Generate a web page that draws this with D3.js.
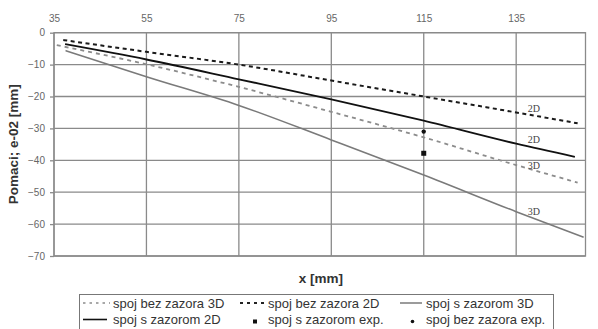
<!DOCTYPE html>
<html><head><meta charset="utf-8">
<script src="https://cdn.jsdelivr.net/npm/d3@7"></script>
<style>body{margin:0;background:#fff}svg{display:block}</style>
</head><body>
<svg id="c" width="598" height="329"></svg>
<script>
const xTicks = [35, 55, 75, 95, 115, 135];
const yTicks = [0, -10, -20, -30, -40, -50, -60, -70];
const xBez2D = [37, 55, 75, 95, 115, 135, 148.3];
const yBez2D = [-2.3, -6.0, -10.0, -15.0, -20.0, -25.0, -28.4];
const xSzaz2D = [37.4, 55, 75, 95, 115, 135, 147.7];
const ySzaz2D = [-3.6, -8.4, -14.6, -20.9, -27.6, -34.8, -38.9];
const xBez3D = [35.6, 55, 75, 95, 115, 135, 148.3];
const yBez3D = [-3.9, -9.9, -17.0, -24.8, -32.8, -41.5, -47.0];
const xSzaz3D = [37.5, 55, 75, 95, 115, 135, 149.6];
const ySzaz3D = [-5.6, -13.8, -22.8, -33.6, -44.6, -56.1, -64.1];
const expX = [115];
const expSzaz = [-37.8];
const expBez = [-31.0];
const curveLabels = [
  {text: "2D", x: 137.5, y: -25.0},
  {text: "2D", x: 137.5, y: -34.5},
  {text: "3D", x: 137.5, y: -42.6},
  {text: "3D", x: 137.5, y: -57.2}
];

const svg = d3.select("#c");
const L = 54, R = 585.5, T = 32.7, B = 256;
const x = d3.scaleLinear().domain([35, 150]).range([L, R]);
const y = d3.scaleLinear().domain([0, -70]).range([T, B]);
const grid = "#8a8a8a";

// gridlines
svg.append("g").selectAll("line").data(yTicks).join("line")
  .attr("x1", L).attr("x2", R).attr("y1", d => y(d)).attr("y2", d => y(d))
  .attr("stroke", grid).attr("stroke-width", 1.3);
svg.append("g").selectAll("line").data(xTicks).join("line")
  .attr("x1", d => x(d)).attr("x2", d => x(d)).attr("y1", T).attr("y2", B)
  .attr("stroke", grid).attr("stroke-width", 1.3);
svg.append("rect").attr("x", L).attr("y", T).attr("width", R - L).attr("height", B - T)
  .attr("fill", "none").attr("stroke", grid).attr("stroke-width", 1.3);

// axes
const yAxis = d3.axisLeft(y).tickValues(yTicks).tickSize(4).tickPadding(5).tickFormat(d3.format("d"));
const gy = svg.append("g").attr("transform", `translate(${L},0)`).call(yAxis);
gy.select(".domain").remove();
gy.selectAll("line").attr("stroke", grid).attr("stroke-width", 1.3);
gy.selectAll("text").attr("fill", "#666").style("font", "10px Arial, 'Liberation Sans', sans-serif");

const xAxis = d3.axisTop(x).tickValues(xTicks).tickSize(0).tickPadding(10.5).tickFormat(d3.format("d"));
const gx = svg.append("g").attr("transform", `translate(0,${T})`).call(xAxis);
gx.select(".domain").remove();
gx.selectAll("text").attr("fill", "#666").style("font", "10px Arial, 'Liberation Sans', sans-serif");

// lines
const line = d3.line().x(d => x(d[0])).y(d => y(d[1])).curve(d3.curveMonotoneX);
const series = [
  {xs: xBez3D, ys: yBez3D, color: "#8c8c8c", w: 1.8, dash: "4,4"},
  {xs: xBez2D, ys: yBez2D, color: "#1a1a1a", w: 2, dash: "4,3.5"},
  {xs: xSzaz3D, ys: ySzaz3D, color: "#7a7a7a", w: 1.6, dash: null},
  {xs: xSzaz2D, ys: ySzaz2D, color: "#111", w: 1.8, dash: null}
];
series.forEach(s => {
  svg.append("path").datum(d3.zip(s.xs, s.ys)).attr("d", line)
    .attr("fill", "none").attr("stroke", s.color).attr("stroke-width", s.w)
    .attr("stroke-dasharray", s.dash);
});

// experimental points
svg.selectAll(".sq").data(d3.zip(expX, expSzaz)).join("rect")
  .attr("x", d => x(d[0]) - 2.5).attr("y", d => y(d[1]) - 2.5)
  .attr("width", 5).attr("height", 5).attr("fill", "#111");
svg.selectAll(".ci").data(d3.zip(expX, expBez)).join("circle")
  .attr("cx", d => x(d[0])).attr("cy", d => y(d[1])).attr("r", 2.2).attr("fill", "#111");

// curve labels
svg.selectAll(".cl").data(curveLabels).join("text")
  .attr("x", d => x(d.x)).attr("y", d => y(d.y))
  .attr("fill", "#444").style("font", "10px 'Liberation Serif', 'DejaVu Serif', serif")
  .text(d => d.text);

// titles
svg.append("text").attr("transform", `translate(18,${(T + B) / 2}) rotate(-90)`)
  .attr("text-anchor", "middle").attr("fill", "#333")
  .style("font", "bold 13.5px Arial, 'Liberation Sans', sans-serif").text("Pomaci; e-02 [mm]");
svg.append("text").attr("x", 321).attr("y", 283).attr("text-anchor", "middle").attr("fill", "#333")
  .style("font", "bold 13.5px Arial, 'Liberation Sans', sans-serif").text("x  [mm]");

// legend
const lg = svg.append("g");
lg.append("rect").attr("x", 79.5).attr("y", 294.5).attr("width", 474).attr("height", 40)
  .attr("fill", "#fff").attr("stroke", "#777").attr("stroke-width", 1);
const legendItems = [
  {label: "spoj bez zazora 3D", kind: "line", color: "#8c8c8c", dash: "2.5,4", w: 1.5, lx: 83, len: 27, tx: 113, ry: 303},
  {label: "spoj bez zazora 2D", kind: "line", color: "#222", dash: "3,4", w: 1.8, lx: 240, len: 26, tx: 268, ry: 303},
  {label: "spoj s zazorom 3D", kind: "line", color: "#7a7a7a", dash: null, w: 1.5, lx: 400, len: 22, tx: 426, ry: 303},
  {label: "spoj s zazorom 2D", kind: "line", color: "#111", dash: null, w: 1.6, lx: 83, len: 24, tx: 113, ry: 319.5},
  {label: "spoj s zazorom exp.", kind: "sq", color: "#111", lx: 255, tx: 268, ry: 319.5},
  {label: "spoj bez zazora exp.", kind: "ci", color: "#111", lx: 412.5, tx: 426, ry: 319.5}
];
legendItems.forEach(it => {
  if (it.kind === "line") {
    lg.append("line").attr("x1", it.lx).attr("x2", it.lx + it.len).attr("y1", it.ry).attr("y2", it.ry)
      .attr("stroke", it.color).attr("stroke-width", it.w).attr("stroke-dasharray", it.dash);
  } else if (it.kind === "sq") {
    lg.append("rect").attr("x", it.lx - 2).attr("y", it.ry).attr("width", 4).attr("height", 4).attr("fill", it.color);
  } else {
    lg.append("circle").attr("cx", it.lx).attr("cy", it.ry + 2).attr("r", 1.8).attr("fill", it.color);
  }
  lg.append("text").attr("x", it.tx).attr("y", it.ry).attr("dy", "0.35em").attr("fill", "#333")
    .style("font", "13px Arial, 'Liberation Sans', sans-serif").text(it.label);
});
</script>
</body></html>
